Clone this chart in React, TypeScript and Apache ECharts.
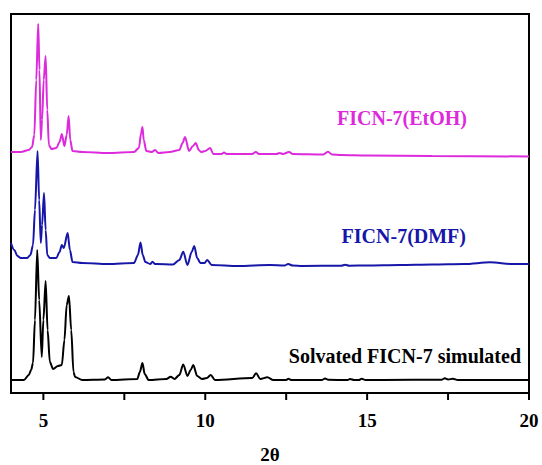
import React, { useEffect, useRef } from "react";
import * as echarts from "echarts";

// 2θ positions and intensities (a.u.), per pattern
const simTheta = [4.0, 4.4, 4.55, 4.62, 4.68, 4.74, 4.81, 4.87, 4.95, 5.0, 5.07, 5.13, 5.2, 5.3, 5.45, 5.57, 5.65, 5.72, 5.79, 5.86, 5.93, 5.98, 6.2, 6.9, 7.0, 7.1, 7.9, 7.98, 8.06, 8.13, 8.25, 8.8, 8.93, 9.05, 9.2, 9.32, 9.45, 9.55, 9.63, 9.75, 9.9, 10.05, 10.17, 10.3, 11.45, 11.57, 11.7, 11.92, 12.1, 12.5, 12.57, 12.65, 13.6, 13.7, 13.8, 14.4, 14.47, 14.6, 14.75, 14.83, 14.95, 15.5, 17.3, 17.4, 17.5, 17.65, 17.8, 20.0];
const simInt = [0, 0, 5, 10, 17, 60, 130, 80, 23, 60, 99, 50, 18, 11, 14, 15, 40, 75, 84, 50, 8, 3, 0, 0.5, 2.7, 0, 1, 8, 17, 6, 0, 1, 3.3, 1, 5, 15.5, 4, 10, 15, 4, 1, 2, 5, 0, 2, 6.7, 1, 2.7, 0, 0, 1.2, 0, 0, 1.5, 0.2, 0, 1, 0, 0, 1.3, 0, 0, 0.3, 1.7, 0.5, 1.3, 0, 0];

const dmfTheta = [4.0, 4.1, 4.2, 4.3, 4.5, 4.6, 4.68, 4.74, 4.82, 4.87, 4.92, 4.96, 5.02, 5.07, 5.12, 5.2, 5.4, 5.5, 5.57, 5.63, 5.75, 5.82, 5.9, 6.2, 7.0, 7.8, 7.92, 8.0, 8.07, 8.15, 8.3, 8.37, 8.45, 8.5, 9.0, 9.2, 9.32, 9.45, 9.58, 9.66, 9.75, 9.85, 9.98, 10.06, 10.2, 11.0, 12.0, 12.45, 12.56, 12.7, 13.0, 14.2, 14.32, 14.45, 15.0, 16.0, 17.0, 18.0, 18.8, 19.5, 20.0];
const dmfInt = [23, 16, 10, 8, 8, 11, 21, 56, 115, 66, 23, 41, 73, 36, 11, 8, 8, 14, 21, 18, 33, 16, 4, 3, 2, 3, 11, 23.5, 11, 4, 2, 4.3, 2, 2, 1.5, 6, 14.3, 1, 14, 20, 8, 3, 3, 6, 1, 0, 1, 0.5, 2, 0.5, 0, 0.3, 1.3, 0.3, 0.5, 1, 1.5, 2, 3.7, 2, 2];

const etohTheta = [4.0, 4.3, 4.55, 4.65, 4.72, 4.78, 4.84, 4.88, 4.92, 4.96, 5.01, 5.07, 5.12, 5.17, 5.25, 5.4, 5.5, 5.57, 5.65, 5.72, 5.78, 5.83, 5.9, 6.2, 7.0, 7.8, 7.95, 8.02, 8.06, 8.1, 8.18, 8.35, 8.45, 8.55, 8.9, 9.2, 9.3, 9.375, 9.5, 9.62, 9.705, 9.8, 9.87, 10.0, 10.15, 10.25, 10.5, 10.58, 10.66, 11.45, 11.56, 11.66, 12.2, 12.3, 12.4, 12.59, 12.7, 13.65, 13.79, 13.92, 14.2, 15.0, 17.0, 20.0];
const etohInt = [3, 3, 5, 8, 20, 75, 131, 85, 15, 35, 75, 99, 45, 10, 6, 7, 13, 21, 9, 20, 39, 15, 4, 3, 2, 3, 7, 22, 28, 15, 4, 3, 5, 2, 3, 5, 12, 18, 4, 9, 12, 5, 3, 4, 7, 1, 1, 2.5, 1, 1, 3, 1, 1, 2, 1, 3, 1, 0.5, 3.3, 0.5, 0, -0.5, -1, -1.5];

const seriesNames = ["Solvated FICN-7 simulated", "FICN-7(DMF)", "FICN-7(EtOH)"];
const offsets = [13, 127, 238];
const colors = ["#000000", "#1616a8", "#dc2adc"];

const xLabelValues = [5, 10, 15, 20];
const xTickValues = [5, 7.5, 10, 12.5, 15, 17.5, 20];

const FONT = "'Liberation Serif', 'Times New Roman', serif";

export default function App() {
  const ref = useRef<HTMLDivElement>(null);
  useEffect(() => {
    if (!ref.current) return;
    const chart = echarts.init(ref.current, undefined, { renderer: "svg" });
    const traces = [
      [simTheta, simInt],
      [dmfTheta, dmfInt],
      [etohTheta, etohInt],
    ];
    const series: any[] = traces.map(([xs, ys], i) => ({
      type: "line",
      name: seriesNames[i],
      data: xs.map((x, j) => [x, ys[j] + offsets[i]]),
      showSymbol: false,
      symbol: "none",
      smooth: 0.3,
      smoothMonotone: "x",
      lineStyle: { color: colors[i], width: 2 },
      itemStyle: { color: colors[i] },
      z: 3 - i,
    }));
    // outward tick marks, positioned by the x axis scale
    series.push({
      type: "scatter",
      name: "ticks",
      data: xTickValues.map((v) => [v, 0]),
      symbol: "rect",
      symbolSize: [2, 7],
      symbolOffset: [0, 3.5],
      clip: false,
      silent: true,
      itemStyle: { color: "#000000", opacity: 1 },
      z: 10,
    });
    chart.setOption({
      animation: false,
      backgroundColor: "#ffffff",
      grid: {
        left: 11,
        right: 13,
        top: 14,
        bottom: 72,
        show: true,
        borderColor: "#000",
        borderWidth: 2,
        containLabel: false,
        outerBoundsMode: "none",
      },
      xAxis: {
        type: "value",
        min: 4,
        max: 20,
        name: "2θ",
        nameLocation: "middle",
        nameGap: 52,
        nameTextStyle: { fontFamily: FONT, fontWeight: "bold", fontSize: 19, color: "#000" },
        axisLine: { show: true, lineStyle: { color: "#000", width: 2 } },
        axisTick: { show: false },
        axisLabel: {
          customValues: xLabelValues,
          margin: 18,
          fontFamily: FONT,
          fontWeight: "bold",
          fontSize: 19,
          color: "#000",
        },
        splitLine: { show: false },
      },
      yAxis: {
        type: "value",
        min: 0,
        max: 379,
        show: false,
        splitLine: { show: false },
      },
      graphic: [
        {
          type: "text",
          right: 542 - 467,
          top: 108,
          style: { text: seriesNames[2], fill: colors[2], font: `bold 20px ${FONT}` },
        },
        {
          type: "text",
          right: 542 - 466,
          top: 226,
          style: { text: seriesNames[1], fill: colors[1], font: `bold 20px ${FONT}` },
        },
        {
          type: "text",
          right: 542 - 521,
          top: 346,
          style: { text: seriesNames[0], fill: colors[0], font: `bold 20px ${FONT}` },
        },
      ],
      series,
    });
    return () => chart.dispose();
  }, []);
  return <div ref={ref} style={{ width: 542, height: 465, position: "absolute", left: 0, top: 0 }} />;
}
